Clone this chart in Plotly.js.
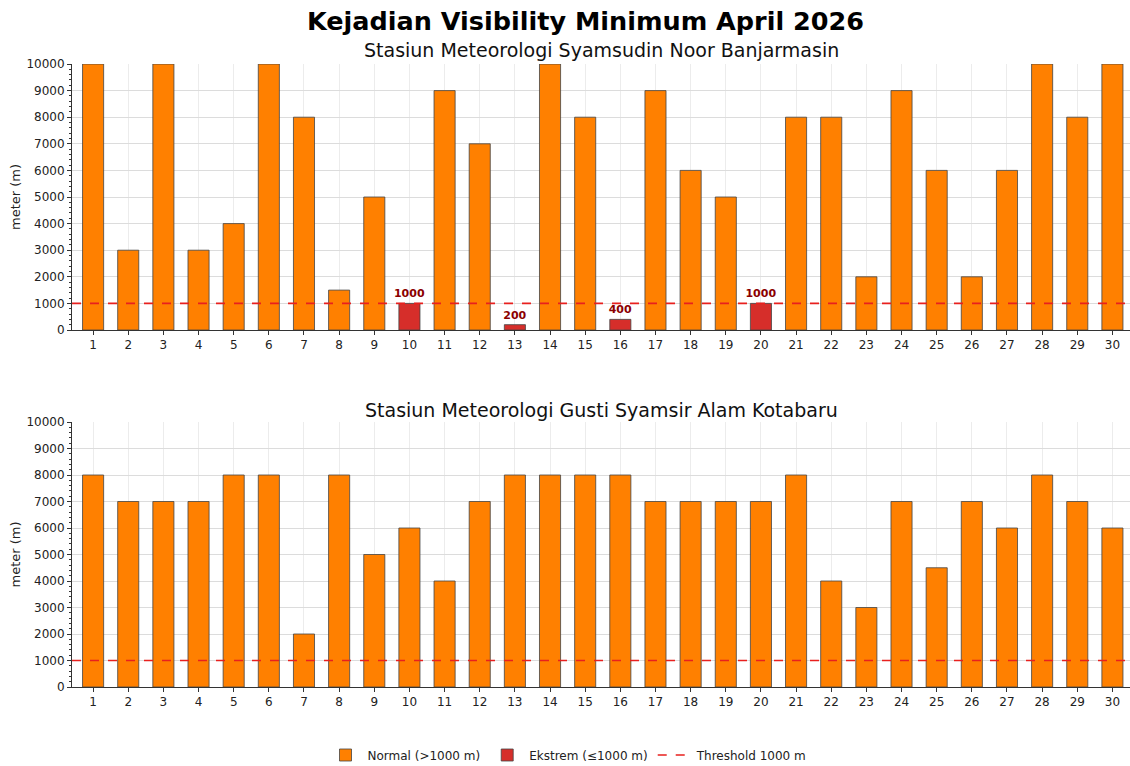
<!DOCTYPE html>
<html>
<head>
<meta charset="utf-8">
<script src="https://cdn.plot.ly/plotly-3.0.1.min.js"></script>
<style>html,body{margin:0;padding:0;background:#fff;}#chart{width:1130px;height:766px;}</style>
</head>
<body>
<div id="chart"></div>
<script>
const days = Array.from({length: 30}, (_, i) => i + 1);
const banjarmasin = [10000, 3000, 10000, 3000, 4000, 10000, 8000, 1500, 5000, 1000,
                     9000, 7000, 200, 10000, 8000, 400, 9000, 6000, 5000, 1000,
                     8000, 8000, 2000, 9000, 6000, 2000, 6000, 10000, 8000, 10000];
const kotabaru = [8000, 7000, 7000, 7000, 8000, 8000, 2000, 8000, 5000, 6000,
                  4000, 7000, 8000, 8000, 8000, 8000, 7000, 7000, 7000, 7000,
                  8000, 4000, 3000, 7000, 4500, 7000, 6000, 8000, 7000, 6000];
const threshold = 1000;
const mainTitle = 'Kejadian Visibility Minimum April 2026';
const station1 = 'Stasiun Meteorologi Syamsudin Noor Banjarmasin';
const station2 = 'Stasiun Meteorologi Gusti Syamsir Alam Kotabaru';
const yLabel = 'meter (m)';
const legendNames = ['Normal (>1000 m)', 'Ekstrem (≤1000 m)', 'Threshold 1000 m'];
const yTicks = [0,1000,2000,3000,4000,5000,6000,7000,8000,9000,10000];

const ORANGE = '#FF8000';
const RED = '#D62E2A';
const EDGE = '#444444';
const FONT = 'DejaVu Sans, sans-serif';

function split(vals) {
  const nx = [], ny = [], ex = [], ey = [];
  vals.forEach((v, i) => {
    if (v <= threshold) { ex.push(days[i]); ey.push(v); }
    else { nx.push(days[i]); ny.push(v); }
  });
  return {nx, ny, ex, ey};
}

const s1 = split(banjarmasin);
const s2 = split(kotabaru);
const traces = [];
function barTrace(x, y, color, name, xa, ya, show, labels) {
  const t = {
    type: 'bar', x: x, y: y, xaxis: xa, yaxis: ya, name: name,
    width: 0.6, legendgroup: name, showlegend: show,
    marker: {color: color, line: {color: EDGE, width: 0.8}},
    hoverinfo: 'x+y'
  };
  if (labels) {
    t.text = y.map(v => String(v));
    t.textposition = 'outside';
    t.constraintext = 'none';
    t.cliponaxis = false;
    t.textfont = {family: FONT, size: 11, color: '#8B0000', weight: 'bold'};
  }
  return t;
}
traces.push(barTrace(s1.nx, s1.ny, ORANGE, legendNames[0], 'x', 'y', true, false));
traces.push(barTrace(s1.ex, s1.ey, RED, legendNames[1], 'x', 'y', true, true));
traces.push(barTrace(s2.nx, s2.ny, ORANGE, legendNames[0], 'x2', 'y2', false, false));
traces.push(barTrace(s2.ex, s2.ey, RED, legendNames[1], 'x2', 'y2', false, true));
traces.push({
  type: 'scatter', mode: 'lines', x: [null], y: [null], xaxis: 'x', yaxis: 'y',
  name: legendNames[2], showlegend: true,
  line: {color: '#E8201E', width: 1.6, dash: 'dash'}
});

function xaxis(anchor) {
  return {
    anchor: anchor, domain: [0, 1], range: [0.4, 30.5],
    tickmode: 'array', tickvals: days, ticktext: days.map(String),
    ticks: 'outside', ticklen: 4, tickwidth: 1, tickcolor: '#333',
    showline: true, linecolor: '#333', linewidth: 1,
    showgrid: true, gridcolor: '#ececec', gridwidth: 1,
    zeroline: false, tickfont: {family: FONT, size: 12, color: '#222'},
    automargin: false
  };
}
function yaxis(anchor, dom) {
  return {
    anchor: anchor, domain: dom, range: [0, 10000],
    tickmode: 'array', tickvals: yTicks, ticktext: yTicks.map(String),
    ticks: 'outside', ticklen: 4, tickwidth: 1, tickcolor: '#333',
    minor: {dtick: 200, ticks: 'outside', ticklen: 2, tickcolor: '#333', showgrid: false},
    showline: true, linecolor: '#333', linewidth: 1,
    showgrid: true, gridcolor: '#dcdcdc', gridwidth: 1,
    zeroline: false, tickfont: {family: FONT, size: 12, color: '#222'},
    title: {text: yLabel, font: {family: FONT, size: 13, color: '#222'}, standoff: 2},
    automargin: false
  };
}

const H = 766;
const pw = 1130 - 72;
function px(xPix) { return (xPix - 72) / pw; }
function py(yPix) { return 1 - yPix / H; }

const layout = {
  width: 1130, height: 766,
  margin: {l: 72, r: 0, t: 0, b: 0, autoexpand: false},
  paper_bgcolor: '#fff', plot_bgcolor: '#fff',
  font: {family: FONT},
  barmode: 'overlay',
  bargap: 0,
  xaxis: xaxis('y'),
  yaxis: yaxis('x', [py(330), py(64)]),
  xaxis2: xaxis('y2'),
  yaxis2: yaxis('x2', [py(687), py(422)]),
  shapes: [
    {type: 'line', xref: 'x domain', yref: 'y', x0: 0, x1: 1, y0: threshold, y1: threshold,
     line: {color: '#E8201E', width: 1.6, dash: 'dash'}, layer: 'above'},
    {type: 'line', xref: 'x2 domain', yref: 'y2', x0: 0, x1: 1, y0: threshold, y1: threshold,
     line: {color: '#E8201E', width: 1.6, dash: 'dash'}, layer: 'above'}
  ],
  annotations: [
    {text: '<b>' + mainTitle + '</b>', xref: 'paper', yref: 'paper', x: px(585), y: py(21),
     xanchor: 'center', yanchor: 'middle', showarrow: false,
     font: {family: FONT, size: 25.5, color: '#000'}},
    {text: station1, xref: 'paper', yref: 'paper', x: px(601), y: py(50),
     xanchor: 'center', yanchor: 'middle', showarrow: false,
     font: {family: FONT, size: 19, color: '#111'}},
    {text: station2, xref: 'paper', yref: 'paper', x: px(601), y: py(410),
     xanchor: 'center', yanchor: 'middle', showarrow: false,
     font: {family: FONT, size: 19, color: '#111'}}
  ],
  legend: {
    orientation: 'h', x: px(568), y: py(755), xanchor: 'center', yanchor: 'middle',
    xref: 'paper', yref: 'paper',
    font: {family: FONT, size: 12, color: '#222'}, traceorder: 'normal',
    itemwidth: 34, bgcolor: 'rgba(0,0,0,0)'
  }
};

Plotly.newPlot('chart', traces, layout, {displayModeBar: false, staticPlot: true});
</script>
</body>
</html>
